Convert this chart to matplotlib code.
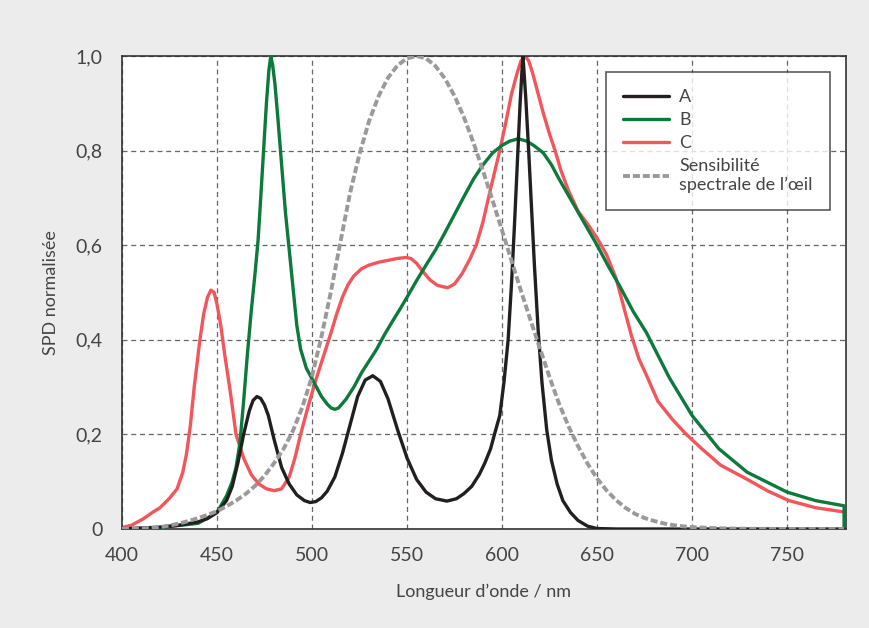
import matplotlib
matplotlib.use('Agg')
import matplotlib.pyplot as plt
from matplotlib.ticker import FixedLocator, FuncFormatter

plt.rcParams['font.family'] = ['Lato', 'DejaVu Sans']

# Courbe A (noire)
wl_a = [400, 410, 420, 430, 440, 445, 450, 455, 458, 461, 464, 467, 469, 471, 473, 475, 477,
        480, 484, 488, 492, 496, 499, 502, 505, 508, 512, 516, 520, 524, 528, 532, 536, 540,
        545, 550, 555, 560, 565, 571, 576, 580, 584, 588, 591, 594, 596, 598.8, 601, 603.2, 605,
        606.5, 608, 609.5, 610.5, 611, 611.5, 612.5, 614, 615.5, 617, 619, 621, 623.5,
        626, 629, 632, 636, 640, 645, 650, 660, 780]
spd_a = [0, 0.002, 0.004, 0.008, 0.015, 0.022, 0.035, 0.06, 0.09, 0.14, 0.2, 0.25, 0.272, 0.28, 0.276, 0.262, 0.24,
         0.19, 0.13, 0.095, 0.072, 0.06, 0.056, 0.058, 0.066, 0.08, 0.11, 0.16, 0.22, 0.28, 0.315, 0.324, 0.312, 0.275,
         0.21, 0.15, 0.105, 0.078, 0.064, 0.059, 0.064, 0.075, 0.09, 0.115, 0.14, 0.17, 0.2, 0.24, 0.31, 0.4, 0.52,
         0.64, 0.77, 0.9, 0.97, 1.0, 0.97, 0.91, 0.8, 0.68, 0.56, 0.42, 0.31, 0.21,
         0.145, 0.095, 0.06, 0.035, 0.018, 0.006, 0.001, 0, 0]

# Courbe B (verte)
wl_b = [400, 420, 440, 450, 455, 458, 460, 462, 464, 466, 468, 470, 471.6, 473, 474.5, 476, 477.3, 478.3,
        479.3, 480.5, 482, 484, 486, 488, 490, 492, 494, 497, 501, 505, 508, 510, 512, 514, 518, 522,
        526, 530, 534, 538, 542, 546, 550, 555, 560, 565, 570, 575, 580, 585, 590, 595, 600, 604, 608.5,
        613, 617, 621.7, 626, 630, 635, 640, 645, 650, 656, 662, 669, 676, 688, 700, 714, 729, 750, 765, 780, 780]
spd_b = [0, 0.003, 0.012, 0.035, 0.07, 0.1, 0.13, 0.18, 0.27, 0.37, 0.46, 0.54, 0.61, 0.7, 0.8, 0.9, 0.97, 1.0,
         0.98, 0.94, 0.87, 0.77, 0.67, 0.59, 0.51, 0.43, 0.38, 0.34, 0.31, 0.28, 0.264, 0.256, 0.253, 0.256, 0.275, 0.3,
         0.33, 0.355, 0.38, 0.41, 0.437, 0.463, 0.49, 0.525, 0.558, 0.59, 0.627, 0.665, 0.703, 0.74, 0.77, 0.795, 0.811, 0.82, 0.825,
         0.82, 0.81, 0.795, 0.77, 0.74, 0.705, 0.67, 0.635, 0.6, 0.555, 0.513, 0.46, 0.415, 0.32, 0.24, 0.17, 0.12, 0.078, 0.06, 0.049, 0]

# Courbe C (rouge)
wl_c = [400, 405, 411, 416, 420, 425, 429, 432, 434, 436, 438, 441, 443, 445, 446.8, 448.5, 450, 452, 454, 457,
        460, 464, 468, 472, 476, 480, 484, 488, 491, 494, 498, 502, 506, 510, 513, 516, 519, 522, 526, 530,
        535, 540, 545, 549.4, 552, 555, 558, 562, 566, 571.4, 575, 579, 583, 586.4, 590, 594, 598.8, 602, 605,
        608, 610, 612, 614, 616, 619, 622, 625, 627.9, 631, 635, 640, 645, 650, 655, 660, 664, 668, 672, 676,
        682, 690, 697, 705, 715, 729, 740, 751, 765, 780]
spd_c = [0.003, 0.008, 0.021, 0.035, 0.045, 0.065, 0.085, 0.12, 0.16, 0.22, 0.3, 0.4, 0.455, 0.49, 0.505, 0.5, 0.475, 0.43, 0.37, 0.29,
         0.2, 0.15, 0.115, 0.095, 0.085, 0.081, 0.085, 0.11, 0.15, 0.2, 0.26, 0.315, 0.365, 0.415, 0.455, 0.49, 0.517, 0.535, 0.55, 0.558,
         0.564, 0.568, 0.572, 0.574, 0.572, 0.562, 0.546, 0.527, 0.515, 0.51, 0.518, 0.54, 0.57, 0.6, 0.65, 0.72, 0.8, 0.86, 0.92,
         0.965, 0.99, 1.0, 0.99, 0.965, 0.92, 0.875, 0.835, 0.8, 0.758, 0.715, 0.672, 0.645, 0.615, 0.58, 0.53, 0.47, 0.41, 0.36, 0.325,
         0.27, 0.23, 0.2, 0.17, 0.135, 0.105, 0.08, 0.06, 0.045, 0.036]

# Sensibilité spectrale de l'oeil
wl_v = [400, 405, 410, 415, 420, 425, 430, 435, 440, 445, 450, 455, 460, 465, 470, 475, 480, 485, 490,
        495, 500, 505, 510, 515, 520, 525, 530, 535, 540, 545, 550, 555, 560, 565, 570, 575, 580, 585,
        590, 595, 600, 605, 610, 615, 620, 625, 630, 635, 640, 645, 650, 655, 660, 665, 670, 675, 680,
        685, 690, 695, 700, 710, 720, 730, 750, 780]
spd_v = [0.0004, 0.0006, 0.0012, 0.0022, 0.004, 0.0073, 0.0116, 0.0168, 0.023, 0.0298, 0.038, 0.048, 0.06,
         0.0739, 0.091, 0.1126, 0.139, 0.1693, 0.208, 0.2586, 0.323, 0.4073, 0.503, 0.6082, 0.71, 0.7932,
         0.862, 0.9149, 0.954, 0.9803, 0.995, 1.0, 0.995, 0.9786, 0.952, 0.9154, 0.87, 0.8163, 0.757,
         0.6949, 0.631, 0.5668, 0.503, 0.4412, 0.381, 0.321, 0.265, 0.217, 0.175, 0.1382, 0.107, 0.0816,
         0.061, 0.0446, 0.032, 0.0232, 0.017, 0.0119, 0.0082, 0.0057, 0.0041, 0.0021, 0.001, 0.0005, 0.0001, 0]

x_ticks = [400, 450, 500, 550, 600, 650, 700, 750]
y_ticks = [0, 0.2, 0.4, 0.6, 0.8, 1.0]

fig = plt.figure(figsize=(8.7, 6.28), dpi=100, facecolor='#ececec')
ax = fig.add_axes([122 / 870, 1 - 529 / 628, 724 / 870, 473 / 628])
ax.set_facecolor('white')

style = dict(lw=2.4, solid_joinstyle='round', solid_capstyle='round')
ax.plot(wl_a, spd_a, color='#231f1f', label='A', zorder=4, **style)
ax.plot(wl_b, spd_b, color='#0b7a3b', label='B', zorder=3, **style)
ax.plot(wl_c, spd_c, color='#f2555a', label='C', zorder=2, **style)
ax.plot(wl_v, spd_v, color='#9a9a9a', lw=2.8, linestyle=(0, (1.8, 0.75)),
        label='Sensibilité\nspectrale de l’œil', zorder=5)

ax.set_xlim(400, 781)
ax.set_ylim(0, 1.0)
ax.xaxis.set_major_locator(FixedLocator(x_ticks))
ax.yaxis.set_major_locator(FixedLocator(y_ticks))
ax.yaxis.set_major_formatter(FuncFormatter(lambda v, p: '0' if v == 0 else f'{v:.1f}'.replace('.', ',')))

ax.grid(True, color='#666666', lw=0.9, linestyle=(0, (4, 3)))
ax.set_axisbelow(True)
for s in ax.spines.values():
    s.set_color('#333333')
    s.set_linewidth(1.2)

ax.tick_params(length=0, labelsize=14, labelcolor='#444444')
ax.tick_params(axis='x', pad=13)
ax.tick_params(axis='y', pad=14)

ax.set_xlabel('Longueur d’onde / nm', fontsize=13, color='#444444', labelpad=14)
ax.set_ylabel('SPD normalisée', fontsize=13, color='#444444', labelpad=12)

leg = ax.legend(loc='upper right', bbox_to_anchor=(0.978, 0.966), borderaxespad=0,
                fancybox=False, edgecolor='#333333', fontsize=13, handlelength=2.5,
                handletextpad=0.6, labelspacing=0.38, borderpad=0.95)
leg.get_frame().set_linewidth(1.2)
for t in leg.get_texts():
    t.set_color('#444444')

plt.savefig('out.png', dpi=100, facecolor=fig.get_facecolor())
